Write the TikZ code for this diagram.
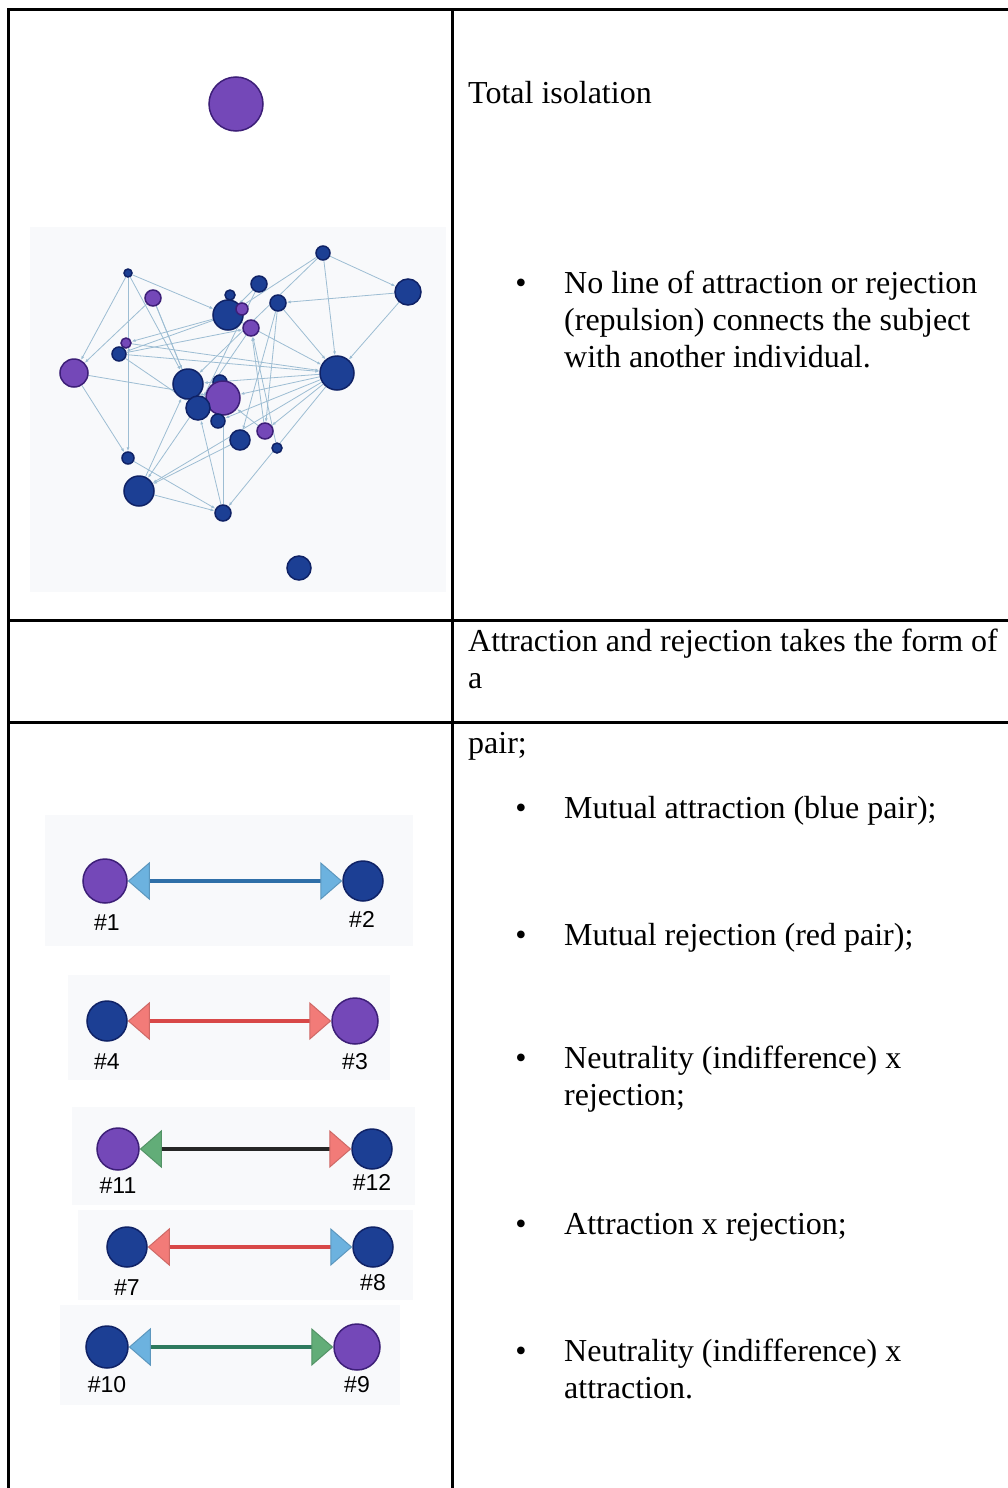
\documentclass[tikz,border=0pt]{standalone}
\usepackage{fontspec}
\setmainfont{Liberation Serif}
\newfontfamily\labelfont{Liberation Sans}
\usetikzlibrary{arrows.meta,backgrounds}

\definecolor{navy}{HTML}{1C3F94}
\definecolor{navyrim}{HTML}{0F2266}
\definecolor{lilac}{HTML}{7448B8}
\definecolor{lilacrim}{HTML}{3D1F78}
\definecolor{panel}{HTML}{F8F9FB}
\definecolor{tiecol}{HTML}{9DBDD3}
\definecolor{skyhead}{HTML}{6CB2DF}
\definecolor{skyline}{HTML}{2F6FA8}
\definecolor{redhead}{HTML}{F27B78}
\definecolor{redline}{HTML}{D84848}
\definecolor{greenhead}{HTML}{62AD78}
\definecolor{greenline}{HTML}{2E7A5E}

\tikzset{
  indiv/.style={circle,inner sep=0pt,fill=navy,draw=navyrim,line width=1.5pt,minimum size=#1},
  indivp/.style={indiv=#1,fill=lilac,draw=lilacrim},
  tie/.style={draw=tiecol,line width=0.8pt,-{Latex[length=4pt,width=3pt]}},
  txt/.style={anchor=base west,inner sep=0pt,font=\fontsize{32}{37}\selectfont},
  dot/.style={anchor=base,inner sep=0pt,font=\fontsize{32}{37}\selectfont},
  lbl/.style={anchor=base,inner sep=0pt,font=\labelfont\fontsize{23}{26}\selectfont},
  pairline/.style={line width=3.5pt},
  skytip/.tip={Triangle[length=22pt,width=38pt,fill=skyhead,color=skyhead!85!black,line width=1pt]},
  rosetip/.tip={Triangle[length=22pt,width=38pt,fill=redhead,color=redhead!85!black,line width=1pt]},
  leaftip/.tip={Triangle[length=22pt,width=38pt,fill=greenhead,color=greenhead!85!black,line width=1pt]}
}

\begin{document}
\begin{tikzpicture}[x=1pt,y=-1pt]
\useasboundingbox (0,0) rectangle (1008,1488);

% isolated subject
\node[indivp=54pt] (s0) at (236,104) {};

% sociogram
\foreach \n/\x/\y/\r/\c in {1/323/253/14/indiv, 2/408/292/26/indiv, 3/128/273/8/indiv,
  4/153/298/16/indivp, 5/259/284/16/indiv, 6/230/295/10/indiv, 7/228/315/30/indiv,
  8/242/309/12/indivp, 9/251/328/16/indivp, 10/278/303/16/indiv, 11/126/343/10/indivp,
  12/119/354/14/indiv, 13/74/373/28/indivp, 14/337/373/34/indiv, 15/188/384/30/indiv,
  16/220/382/14/indiv, 17/223/398/34/indivp, 18/198/408/24/indiv, 19/218/421/14/indiv,
  20/265/431/16/indivp, 21/240/440/20/indiv, 22/277/448/10/indiv, 23/128/458/12/indiv,
  24/139/491/30/indiv, 25/223/513/16/indiv, 26/299/568/24/indiv}
  \node[\c=\r pt] (s\n) at (\x,\y) {};

\begin{pgfonlayer}{background}
  \fill[panel] (30,227) rectangle (446,592);
  \fill[panel] (45,815) rectangle (413,946);
  \fill[panel] (68,975) rectangle (390,1080);
  \fill[panel] (72,1107) rectangle (415,1205);
  \fill[panel] (78,1210) rectangle (413,1300);
  \fill[panel] (60,1305) rectangle (400,1405);
  \foreach \a/\b in {3/7, 3/13, 3/23, 3/15, 4/13, 4/15, 4/18, 1/2, 1/14, 1/7, 1/15,
    2/10, 2/14, 10/14, 10/21, 7/12, 7/11, 7/14, 13/17, 13/23, 12/14, 12/18, 14/15,
    14/17, 14/19, 14/20, 14/24, 14/25, 23/25, 24/25, 24/15, 25/17, 25/18, 9/24, 20/17,
    20/9, 21/24, 22/9, 5/7, 6/7, 8/7, 16/17, 18/15, 11/14, 12/9, 5/18, 10/20}
    \draw[tie] (s\a) -- (s\b);
\end{pgfonlayer}

% pairs
\node[indivp=44pt] (p1) at (105,881) {};
\node[indiv=40pt]  (p2) at (363,881) {};
\node[indiv=40pt]  (p4) at (107,1021) {};
\node[indivp=46pt] (p3) at (355,1021) {};
\node[indivp=42pt] (p11) at (118,1149) {};
\node[indiv=40pt]  (p12) at (372,1149) {};
\node[indiv=40pt]  (p7) at (127,1247) {};
\node[indiv=40pt]  (p8) at (373,1247) {};
\node[indiv=42pt]  (p10) at (107,1347) {};
\node[indivp=46pt] (p9) at (357,1347) {};

\draw[pairline,skyline,skytip-skytip] (p1) -- (p2);
\draw[pairline,redline,rosetip-rosetip] (p4) -- (p3);
\draw[pairline,black!85,leaftip-rosetip] (p11) -- (p12);
\draw[pairline,redline,rosetip-skytip] (p7) -- (p8);
\draw[pairline,greenline,skytip-leaftip] (p10) -- (p9);

\node[lbl] (l1) at (107,930) {\#1};
\node[lbl] (l2) at (362,927) {\#2};
\node[lbl] (l4) at (107,1069) {\#4};
\node[lbl] (l3) at (355,1069) {\#3};
\node[lbl] (l11) at (118,1193) {\#11};
\node[lbl] (l12) at (372,1190) {\#12};
\node[lbl] (l7) at (127,1295) {\#7};
\node[lbl] (l8) at (373,1290) {\#8};
\node[lbl] (l10) at (107,1392) {\#10};
\node[lbl] (l9) at (357,1392) {\#9};

% right column
\node[txt] (t1) at (468,103) {Total isolation};
\node[dot] (d1) at (521,293) {•};
\node[txt] (t2) at (564,293) {No line of attraction or rejection};
\node[txt] (t3) at (564,330) {(repulsion) connects the subject};
\node[txt] (t4) at (564,367) {with another individual.};
\node[txt] (t5) at (468,651) {Attraction and rejection takes the form of};
\node[txt] (t6) at (468,688) {a};
\node[txt] (t7) at (468,753) {pair;};
\node[dot] (d2) at (521,818) {•};
\node[txt] (t8) at (564,818) {Mutual attraction (blue pair);};
\node[dot] (d3) at (521,945) {•};
\node[txt] (t9) at (564,945) {Mutual rejection (red pair);};
\node[dot] (d4) at (521,1068) {•};
\node[txt] (t10) at (564,1068) {Neutrality (indifference) x};
\node[txt] (t11) at (564,1105) {rejection;};
\node[dot] (d5) at (521,1234) {•};
\node[txt] (t12) at (564,1234) {Attraction x rejection;};
\node[dot] (d6) at (521,1361) {•};
\node[txt] (t13) at (564,1361) {Neutrality (indifference) x};
\node[txt] (t14) at (564,1398) {attraction.};

% table rules
\draw[line width=3pt] (8,1488) -- (8,10) -- (1008,10);
\draw[line width=3pt] (452,10) -- (452,1488);
\draw[line width=3pt] (8,620) -- (1008,620);
\draw[line width=3pt] (8,722) -- (1008,722);
\end{tikzpicture}
\end{document}
